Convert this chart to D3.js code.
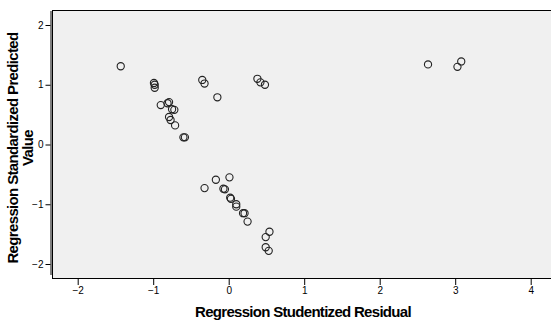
<!DOCTYPE html>
<html>
<head>
<meta charset="utf-8">
<script src="https://cdn.jsdelivr.net/npm/d3@7"></script>
<style>
  body { margin: 0; background: #fff; }
  svg { display: block; }
  text { font-family: "Liberation Sans", Arial, sans-serif; fill: #000; }
</style>
</head>
<body>
<div id="chart"></div>
<script>
// Studentized residual (x) vs standardized predicted value (y)
const residual = [
  -1.43, -0.99, -0.98, -0.98, -0.35, -0.32, -0.15, 0.38, 0.42, 0.48,
  2.64, 3.03, 3.08, -0.90, -0.81, -0.79, -0.75, -0.72, -0.79, -0.77,
  -0.71, -0.60, -0.58, -0.32, -0.17, 0.01, -0.07, -0.05, 0.02, 0.03,
  0.10, 0.10, 0.19, 0.21, 0.25, 0.54, 0.49, 0.49, 0.53
];
const predicted = [
  1.31, 1.03, 1.00, 0.95, 1.08, 1.02, 0.79, 1.10, 1.04, 1.00,
  1.34, 1.30, 1.39, 0.66, 0.69, 0.71, 0.59, 0.58, 0.46, 0.41,
  0.32, 0.12, 0.12, -0.73, -0.59, -0.55, -0.74, -0.75, -0.89, -0.91,
  -1.00, -1.04, -1.15, -1.15, -1.29, -1.46, -1.55, -1.72, -1.78
];
const xTicks = [-2, -1, 0, 1, 2, 3, 4];
const yTicks = [-2, -1, 0, 1, 2];
const xTitle = 'Regression Studentized Residual';
const yTitle = ['Regression Standardized Predicted', 'Value'];

const width = 551, height = 320;
const plot = {left: 52, right: 551, top: 10, bottom: 278};

const x = d3.scaleLinear().domain([-2, 4]).range([77.7, 530.7]);
const y = d3.scaleLinear().domain([-2, 2]).range([264, 25]);

const svg = d3.select('#chart').append('svg')
  .attr('width', width)
  .attr('height', height);

// plot background + frame
svg.append('rect')
  .attr('x', plot.left + 0.5)
  .attr('y', plot.top + 0.5)
  .attr('width', plot.right - plot.left + 2)
  .attr('height', plot.bottom - plot.top)
  .attr('fill', '#f0f0f0')
  .attr('stroke', '#000')
  .attr('stroke-width', 1);

// x axis
const xAxis = svg.append('g')
  .attr('transform', 'translate(0,' + (plot.bottom + 1) + ')')
  .call(d3.axisBottom(x).tickValues(xTicks).tickSize(6).tickPadding(2).tickFormat(d3.format('d')));
xAxis.select('.domain').remove();
xAxis.selectAll('.tick line').attr('stroke', '#000');
xAxis.selectAll('.tick text')
  .style('font-size', '10px')
  .style('font-family', '"Liberation Sans", Arial, sans-serif');

// y axis
const yAxis = svg.append('g')
  .attr('transform', 'translate(' + (plot.left - 1.5) + ',0)')
  .call(d3.axisLeft(y).tickValues(yTicks).tickSize(5).tickPadding(2).tickFormat(d3.format('d')));
yAxis.select('.domain')
  .attr('d', 'M0.5,' + (plot.top + 1) + 'V275');
yAxis.selectAll('.tick line').attr('stroke', '#000');
yAxis.selectAll('.tick text')
  .style('font-size', '10px')
  .style('font-family', '"Liberation Sans", Arial, sans-serif');

// points
svg.append('g')
  .selectAll('circle')
  .data(residual.map((r, i) => ({r, p: predicted[i]})))
  .enter().append('circle')
  .attr('cx', d => x(d.r))
  .attr('cy', d => y(d.p))
  .attr('r', 3.6)
  .attr('fill', 'none')
  .attr('stroke', '#222')
  .attr('stroke-width', 1.1);

// axis titles
svg.append('text')
  .attr('x', 303)
  .attr('y', 317)
  .attr('text-anchor', 'middle')
  .style('font-size', '15px')
  .style('font-weight', 'bold')
  .style('letter-spacing', '-0.7px')
  .text(xTitle);

const yt = svg.append('text')
  .attr('transform', 'translate(18,148) rotate(-90)')
  .attr('text-anchor', 'middle')
  .style('font-size', '15px')
  .style('font-weight', 'bold')
  .style('letter-spacing', '-0.65px');
yt.selectAll('tspan')
  .data(yTitle)
  .enter().append('tspan')
  .attr('x', 0)
  .attr('dy', (d, i) => i === 0 ? 0 : 15)
  .text(d => d);
</script>
</body>
</html>
